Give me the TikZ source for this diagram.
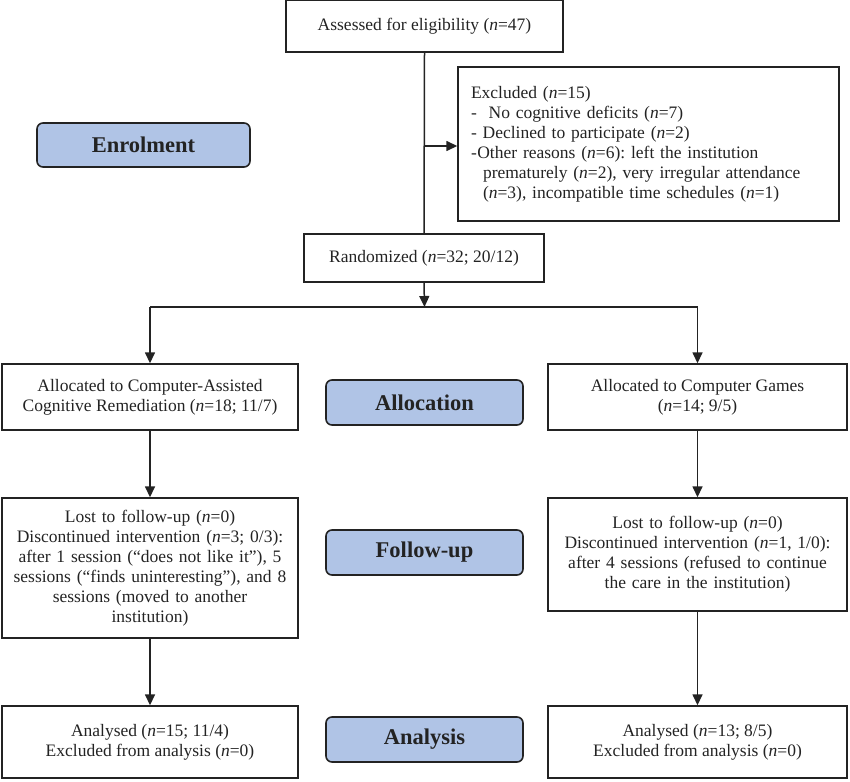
\documentclass[tikz,border=0pt]{standalone}
\usepackage{fontspec}
\setmainfont{Liberation Serif}
\usetikzlibrary{arrows.meta,positioning}
\definecolor{lblfill}{RGB}{176,196,230}
\definecolor{lineclr}{RGB}{35,35,35}
\tikzset{
  box/.style={draw=lineclr, line width=1.4pt, rectangle, align=center, inner sep=2pt,
    font=\fontsize{17.5}{20}\selectfont, text=lineclr},
  lbl/.style={draw=lineclr, line width=1.6pt, rounded corners=6pt, fill=lblfill,
    minimum width=197pt, minimum height=45pt, font=\fontsize{22.5}{26}\selectfont\bfseries, text=lineclr},
  conn/.style={draw=lineclr, line width=1.5pt},
  arr/.style={conn, -{Triangle[length=11pt,width=10pt]}},
}
\newcommand{\nn}{\textit{n}}
\frenchspacing
\begin{document}
\begin{tikzpicture}[x=1pt,y=-1pt]
\useasboundingbox (0,0) rectangle (850,781);
% main boxes
\node[box, minimum width=277pt, minimum height=52pt] (assess) at (424.5,26) {Assessed for eligibility (\nn=47)};
\node[box, minimum width=381pt, minimum height=154pt, align=left, inner xsep=13pt, text width=355pt] (excl) at (648.5,144) {Excluded (\nn=15)\\
-\hspace{6pt} No cognitive deficits (\nn=7)\\
- Declined to participate (\nn=2)\\
-\hspace{0.5pt}Other reasons (\nn=6): left the institution\\
\hspace{12pt}prematurely (\nn=2), very irregular attendance\\
\hspace{12pt}(\nn=3), incompatible time schedules (\nn=1)};
\node[box, minimum width=240pt, minimum height=48pt] (rand) at (424,258) {Randomized (\nn=32; 20/12)};
\node[box, minimum width=296pt, minimum height=66pt] (allocL) at (150,397) {Allocated to Computer-Assisted\\Cognitive Remediation (\nn=18; 11/7)};
\node[box, minimum width=299pt, minimum height=66pt] (allocR) at (697.5,397) {Allocated to Computer Games\\(\nn=14; 9/5)};
\node[box, minimum width=296pt, minimum height=140pt, text width=290pt] (fuL) at (150,568) {Lost to follow-up (\nn=0)\\Discontinued intervention (\nn=3; 0/3):\\after 1 session (``does not like it''), 5\\sessions (``finds uninteresting''), and 8\\sessions (moved to another\\institution)};
\node[box, minimum width=299pt, minimum height=113pt, text width=293pt] (fuR) at (697.5,554.5) {Lost to follow-up (\nn=0)\\Discontinued intervention (\nn=1, 1/0):\\after 4 sessions (refused to continue\\the care in the institution)};
\node[box, minimum width=296pt, minimum height=72pt] (anL) at (150,742) {Analysed (\nn=15; 11/4)\\Excluded from analysis (\nn=0)};
\node[box, minimum width=299pt, minimum height=72pt] (anR) at (697.5,742) {Analysed (\nn=13; 8/5)\\Excluded from analysis (\nn=0)};
% stage labels
\node[lbl, minimum width=213pt, minimum height=44pt] (enrol) at (143.5,145) {Enrolment};
\node[lbl] (alloc) at (424.5,402.5) {Allocation};
\node[lbl] (follow) at (424.5,552.5) {Follow-up};
\node[lbl] (analysis) at (424.5,739.5) {Analysis};
% connectors
\coordinate (split) at (424.5,307);
\coordinate (exbranch) at (424.5,146);
\coordinate (splitL) at (150,307);
\coordinate (splitR) at (697.5,307);
\draw[conn] (assess.south) -- (rand.north);
\draw[arr] (exbranch) -- (exbranch -| excl.west);
\draw[arr] (rand.south) -- (split);
\draw[conn] (splitL) -- (splitR);
\draw[arr] (splitL) -- (allocL.north);
\draw[arr] (splitR) -- (allocR.north);
\draw[arr] (allocL.south) -- (fuL.north);
\draw[arr] (allocR.south) -- (fuR.north);
\draw[arr] (fuL.south) -- (anL.north);
\draw[arr] (fuR.south) -- (anR.north);
\end{tikzpicture}
\end{document}
